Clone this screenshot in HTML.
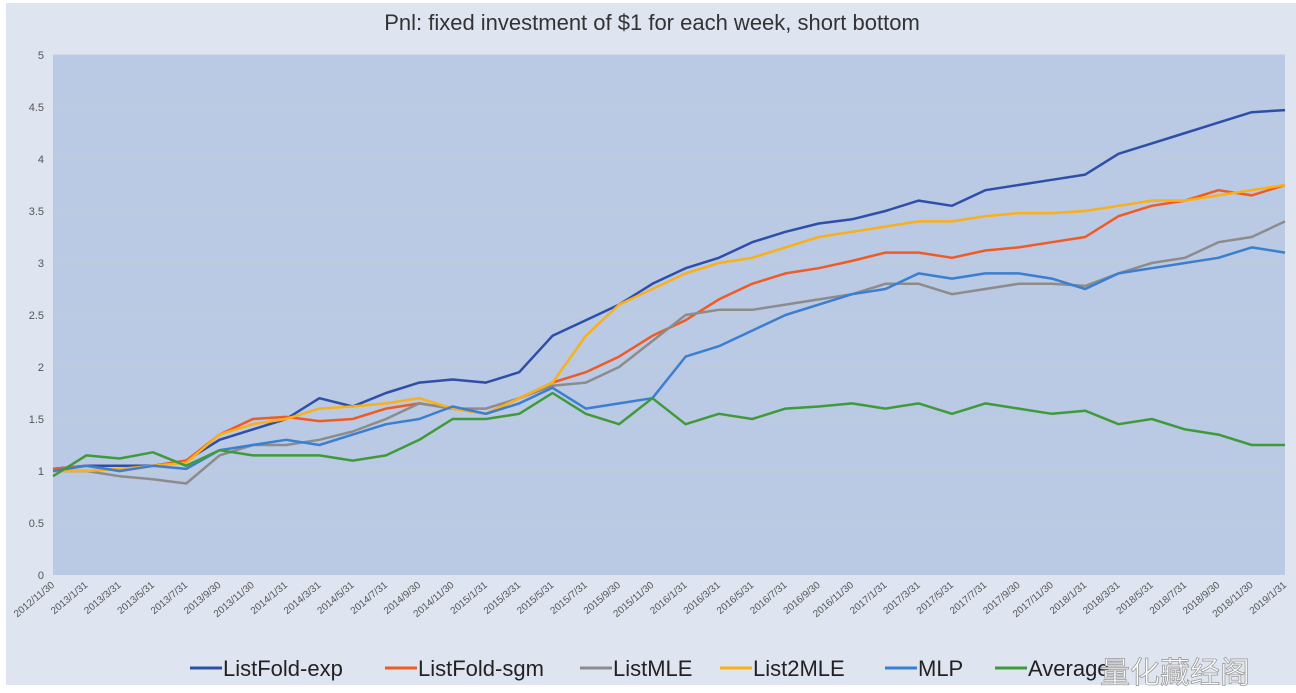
<!DOCTYPE html>
<html><head><meta charset="utf-8"><style>
body{margin:0;background:#fff;}
svg{display:block;font-family:"Liberation Sans","Noto Sans CJK SC",sans-serif;}
</style></head><body>
<svg id="chart" width="1296" height="693">
<rect x="6" y="3" width="1290" height="682" fill="#dfe4f1"/>
<rect x="53" y="55" width="1232" height="520" fill="#bac9e4"/>
<text x="652" y="30" text-anchor="middle" font-size="22" fill="#333">Pnl: fixed investment of $1 for each week, short bottom</text>
<g id="grid"></g><g id="yticks"></g><g id="xticks"></g><g id="series"></g><g id="legend"></g>
<text x="1100" y="683" font-size="30" fill="#fff" stroke="#999" stroke-width="0.8">量化藏经阁</text>
</svg>
<script>
const xLabels=["2012/11/30","2013/1/31","2013/3/31","2013/5/31","2013/7/31","2013/9/30","2013/11/30","2014/1/31","2014/3/31","2014/5/31","2014/7/31","2014/9/30","2014/11/30","2015/1/31","2015/3/31","2015/5/31","2015/7/31","2015/9/30","2015/11/30","2016/1/31","2016/3/31","2016/5/31","2016/7/31","2016/9/30","2016/11/30","2017/1/31","2017/3/31","2017/5/31","2017/7/31","2017/9/30","2017/11/30","2018/1/31","2018/3/31","2018/5/31","2018/7/31","2018/9/30","2018/11/30","2019/1/31"];
const yTicks=[0,0.5,1,1.5,2,2.5,3,3.5,4,4.5,5];
const seriesNames=["ListFold-exp","ListFold-sgm","ListMLE","List2MLE","MLP","Average"];
const seriesColors=["#2e4fa8","#f05a24","#8c8c8c","#fbb016","#3a7fd0","#3f9b3a"];
const listFoldExp=[1.02,1.05,1.05,1.05,1.1,1.3,1.4,1.5,1.7,1.62,1.75,1.85,1.88,1.85,1.95,2.3,2.45,2.6,2.8,2.95,3.05,3.2,3.3,3.38,3.42,3.5,3.6,3.55,3.7,3.75,3.8,3.85,4.05,4.15,4.25,4.35,4.45,4.47];
const listFoldSgm=[1.02,1.05,1.0,1.05,1.1,1.35,1.5,1.52,1.48,1.5,1.6,1.65,1.6,1.55,1.7,1.85,1.95,2.1,2.3,2.45,2.65,2.8,2.9,2.95,3.02,3.1,3.1,3.05,3.12,3.15,3.2,3.25,3.45,3.55,3.6,3.7,3.65,3.75];
const listMLE=[1.0,1.0,0.95,0.92,0.88,1.15,1.25,1.25,1.3,1.38,1.5,1.65,1.6,1.6,1.7,1.82,1.85,2.0,2.25,2.5,2.55,2.55,2.6,2.65,2.7,2.8,2.8,2.7,2.75,2.8,2.8,2.78,2.9,3.0,3.05,3.2,3.25,3.4];
const list2MLE=[1.0,1.0,1.02,1.05,1.08,1.35,1.45,1.5,1.6,1.62,1.65,1.7,1.6,1.55,1.7,1.85,2.3,2.6,2.75,2.9,3.0,3.05,3.15,3.25,3.3,3.35,3.4,3.4,3.45,3.48,3.48,3.5,3.55,3.6,3.6,3.65,3.7,3.75];
const mlp=[1.0,1.05,1.0,1.05,1.02,1.2,1.25,1.3,1.25,1.35,1.45,1.5,1.62,1.55,1.65,1.8,1.6,1.65,1.7,2.1,2.2,2.35,2.5,2.6,2.7,2.75,2.9,2.85,2.9,2.9,2.85,2.75,2.9,2.95,3.0,3.05,3.15,3.1];
const average=[0.95,1.15,1.12,1.18,1.05,1.2,1.15,1.15,1.15,1.1,1.15,1.3,1.5,1.5,1.55,1.75,1.55,1.45,1.7,1.45,1.55,1.5,1.6,1.62,1.65,1.6,1.65,1.55,1.65,1.6,1.55,1.58,1.45,1.5,1.4,1.35,1.25,1.25];
const allSeries=[listFoldExp,listFoldSgm,listMLE,list2MLE,mlp,average];
const NS="http://www.w3.org/2000/svg";
const X0=53,X1=1285,Y0=575,Y1=55,YMAX=5;
const xs=i=>X0+i*(X1-X0)/(xLabels.length-1);
const ys=v=>Y0-v/YMAX*(Y0-Y1);
function mk(tag,attrs,parent,text){const e=document.createElementNS(NS,tag);for(const k in attrs)e.setAttribute(k,attrs[k]);if(text!==undefined)e.textContent=text;document.getElementById(parent).appendChild(e);return e;}
yTicks.forEach(t=>{
  if(t>0){const g=mk('line',{x1:X0,x2:X1,y1:ys(t),y2:ys(t),stroke:'#c4cad6','stroke-width':1},'grid');
  
  }
  const l=mk('text',{x:44,y:ys(t)+4,'text-anchor':'end','font-size':11,fill:'#555'},'yticks',String(t));
  
  
});
xLabels.forEach((s,i)=>{
  const x=xs(i);
  const l=mk('text',{x:x+2,y:586,'text-anchor':'end','font-size':10,fill:'#555',transform:`rotate(-40 ${x+2} 586)`},'xticks',s);
  
  
});
allSeries.forEach((arr,si)=>{
  const pts=arr.map((v,i)=>xs(i).toFixed(1)+','+ys(v).toFixed(1)).join(' ');
  const p=mk('polyline',{points:pts,fill:'none',stroke:seriesColors[si],'stroke-width':2.5,'stroke-linejoin':'round'},'series');
  
  
});
const lx=[190,385,580,720,885,995];
seriesNames.forEach((n,i)=>{
  const ln=mk('line',{x1:lx[i],x2:lx[i]+32,y1:668,y2:668,stroke:seriesColors[i],'stroke-width':3},'legend');
  
  
  const t=mk('text',{x:lx[i]+33,y:676,'font-size':22,fill:'#222'},'legend',n);
  
  
});
</script>
</body></html>
